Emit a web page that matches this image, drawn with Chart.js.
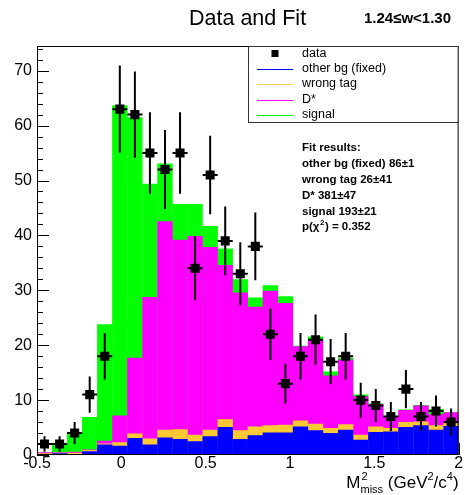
<!DOCTYPE html>
<html><head><meta charset="utf-8">
<script src="https://cdn.jsdelivr.net/npm/chart.js@4/dist/chart.umd.min.js"></script>
<style>html,body{margin:0;padding:0;background:#fff;}canvas{display:block;}</style>
</head><body>
<canvas id="c" width="465" height="495" style="width:465px;height:495px"></canvas>
<script>
// ---- data ----
const binCenters = [-0.4554,-0.3661,-0.2768,-0.1875,-0.0982,-0.0089,0.0804,0.1696,0.2589,0.3482,
  0.4375,0.5268,0.6161,0.7054,0.7946,0.8839,0.9732,1.0625,1.1518,1.2411,
  1.3304,1.4196,1.5089,1.5982,1.6875,1.7768,1.8661,1.9554];
const otherBg  = [0.2,0.3,0.2,0.7,1.9,1.7,3.1,1.9,3.2,2.9,2.5,3.4,5.1,2.9,3.6,4.1,4.1,5.2,4.5,4.0,4.6,2.8,4.2,4.3,5.1,5.4,4.6,5.3];
const wrongTag = [0.1,0.1,0.2,0.2,0.2,0.6,0.8,1.1,1.4,1.8,1.2,1.2,1.4,1.6,1.6,1.3,1.4,1.1,1.2,0.9,1.0,0.9,1.0,0.6,0.9,0.7,0.8,0.5];
const dStar    = [0.2,0.1,0.2,0.1,0.5,4.9,13.8,25.8,38.0,34.5,36.2,33.3,28.1,25.1,21.8,24.5,22.2,13.5,15.2,9.6,11.8,7.0,4.1,2.0,2.2,2.9,2.0,2.0];
const signal   = [0.0,1.5,3.4,5.9,21.2,56.5,43.8,20.6,10.5,6.5,5.8,3.8,3.0,2.4,1.7,1.0,1.2,0.1,0.7,0.7,0.3,0.3,0.1,0.2,0.1,0.1,1.0,0.0];
const dataCounts = [2,2,4,11,18,63,62,55,52,55,34,51,39,33,38,22,13,18,21,17,18,10,9,7,12,7,8,6];
const xTickValues = [-0.5,0,0.5,1,1.5,2];
const xTickLabels = ['-0.5','0','0.5','1','1.5','2'];
const yTickValues = [0,10,20,30,40,50,60,70];
const legendLabels = ['data','other bg (fixed)','wrong tag','D*','signal'];
const fitLines = ['Fit results:','other bg (fixed) 86\u00b11','wrong tag 26\u00b141','D* 381\u00b147','signal 193\u00b121'];
const pChi2 = '0.352';
const titleMain = 'Data and Fit';
const titleSub = '1.24\u2264w<1.30';

const FONT = '"Liberation Sans", Arial, Helvetica, sans-serif';
const C_BLUE = '#0000ff', C_ORANGE = '#ffc933', C_MAG = '#ff00ff', C_GREEN = '#00ff00';

function cumul(arrs){ return binCenters.map((x,i)=>({x:x, y:arrs.reduce((s,a)=>s+a[i],0)})); }

const barCommon = {type:'bar', grouped:false, barPercentage:1.02, categoryPercentage:1, borderWidth:0};

const rootPlugin = {
  id:'rootStyle',
  beforeDatasetsDraw(chart){
    const ctx = chart.ctx, a = chart.chartArea, xs = chart.scales.x, ys = chart.scales.y;
    ctx.save(); ctx.strokeStyle='#000'; ctx.lineWidth=1;
    ctx.beginPath();
    for(let v=0; v<=74; v+=2){
      const y = Math.round(ys.getPixelForValue(v))+0.5;
      const len = (v%10===0)?12:6;
      ctx.moveTo(a.left, y); ctx.lineTo(a.left+len, y);
    }
    for(let k=-5; k<=20; k++){
      const v = k/10;
      const x = Math.round(xs.getPixelForValue(v))+0.5;
      const len = (k%5===0)?12:6;
      ctx.moveTo(x, a.bottom); ctx.lineTo(x, a.bottom-len);
    }
    ctx.stroke(); ctx.restore();
  },
  afterDatasetsDraw(chart){
    const ctx = chart.ctx, a = chart.chartArea, xs = chart.scales.x, ys = chart.scales.y;
    ctx.save();
    ctx.strokeStyle='#000'; ctx.lineWidth=2;
    const half = (xs.getPixelForValue(binCenters[1])-xs.getPixelForValue(binCenters[0]))/2;
    dataCounts.forEach((n,i)=>{
      const x = xs.getPixelForValue(binCenters[i]);
      const e = Math.sqrt(n);
      const y = ys.getPixelForValue(n);
      ctx.beginPath();
      ctx.moveTo(x, ys.getPixelForValue(n+e)); ctx.lineTo(x, ys.getPixelForValue(Math.max(0,n-e)));
      ctx.moveTo(x-half, y); ctx.lineTo(x+half, y);
      ctx.stroke();
    });
    ctx.lineWidth=1; ctx.strokeStyle='#000';
    ctx.strokeRect(a.left+0.5, a.top+0.5, a.right-a.left-1, a.bottom-a.top-1);
    ctx.restore();
  },
  afterDraw(chart){
    const ctx = chart.ctx, a = chart.chartArea;
    ctx.save();
    const lx0 = 248.5, ly0 = a.top+0.5, lx1 = a.right-0.5, ly1 = 122.5;
    ctx.fillStyle='#fff'; ctx.fillRect(lx0, ly0, lx1-lx0, ly1-ly0);
    ctx.strokeStyle='#333'; ctx.lineWidth=1; ctx.strokeRect(lx0, ly0, lx1-lx0, ly1-ly0);
    const rowsY = [53.5, 68.5, 84, 99.5, 114.5];
    const lineColors = [null, C_BLUE, '#ffcc66', C_MAG, C_GREEN];
    ctx.font = '12.5px '+FONT; ctx.textBaseline='middle'; ctx.textAlign='left';
    legendLabels.forEach((lab,i)=>{
      const y = rowsY[i];
      if(i===0){ ctx.fillStyle='#000'; ctx.fillRect(271.5, y-3.5, 7, 7); }
      else { ctx.strokeStyle=lineColors[i]; ctx.lineWidth=1; ctx.beginPath(); ctx.moveTo(257, Math.round(y)+0.5); ctx.lineTo(293, Math.round(y)+0.5); ctx.stroke(); }
      ctx.fillStyle='#000'; ctx.fillText(lab, 302, y);
    });
    ctx.font = 'bold 11.5px '+FONT;
    const fy = [148, 164, 179.5, 195.5, 211.5, 227];
    fitLines.forEach((t,i)=>ctx.fillText(t, 302, fy[i]));
    let px = 302; const py = fy[5];
    ctx.fillText('p(\u03c7', px, py); px += ctx.measureText('p(\u03c7').width;
    ctx.font = 'bold 8px '+FONT; ctx.fillText('2', px+0.5, py-4); px += ctx.measureText('2').width+1;
    ctx.font = 'bold 11.5px '+FONT; ctx.fillText(') = '+pChi2, px, py);
    ctx.textBaseline='alphabetic';
    ctx.font = '21.5px '+FONT; ctx.textAlign='left'; ctx.fillText(titleMain, 189, 25);
    ctx.font = 'bold 15px '+FONT; ctx.textAlign='right'; ctx.fillText(titleSub, 451, 22.5);
    const big = '17px '+FONT, small = '11px '+FONT;
    ctx.font = big; const wM = ctx.measureText('M').width;
    ctx.font = small; const wMiss = ctx.measureText('miss').width, w2 = ctx.measureText('2').width, w4 = ctx.measureText('4').width;
    ctx.font = big; const wA = ctx.measureText(' (GeV').width, wB = ctx.measureText('/c').width, wC = ctx.measureText(')').width;
    const total = wM + wMiss + wA + w2 + wB + w4 + wC;
    let x = a.right - total; const by = 488;
    ctx.textAlign='left'; ctx.fillStyle='#000';
    ctx.font = big; ctx.fillText('M', x, by); x += wM;
    ctx.font = small; ctx.fillText('2', x+1, by-8); ctx.fillText('miss', x, by+5); x += wMiss;
    ctx.font = big; ctx.fillText(' (GeV', x, by); x += wA;
    ctx.font = small; ctx.fillText('2', x, by-8); x += w2;
    ctx.font = big; ctx.fillText('/c', x, by); x += wB;
    ctx.font = small; ctx.fillText('4', x, by-8); x += w4;
    ctx.font = big; ctx.fillText(')', x, by);
    ctx.restore();
  }
};

new Chart(document.getElementById('c'), {
  data: {
    datasets: [
      Object.assign({label:'signal', data:cumul([otherBg,wrongTag,dStar,signal]), backgroundColor:C_GREEN, order:4}, barCommon),
      Object.assign({label:'D*', data:cumul([otherBg,wrongTag,dStar]), backgroundColor:C_MAG, order:3}, barCommon),
      Object.assign({label:'wrong tag', data:cumul([otherBg,wrongTag]), backgroundColor:C_ORANGE, order:2}, barCommon),
      Object.assign({label:'other bg (fixed)', data:cumul([otherBg]), backgroundColor:C_BLUE, order:1}, barCommon),
      {type:'scatter', label:'data', data:binCenters.map((x,i)=>({x:x, y:dataCounts[i]})), order:0,
       pointStyle:'rect', pointRadius:6.4, pointHoverRadius:6.4, backgroundColor:'#000', borderColor:'#000', borderWidth:0, showLine:false}
    ]
  },
  options: {
    responsive:false, animation:false, devicePixelRatio:1,
    layout:{padding:{top:46, right:4, left:0, bottom:0}},
    plugins:{legend:{display:false}, tooltip:{enabled:false}, title:{display:false}},
    scales:{
      x:{type:'linear', min:-0.5, max:2, offset:false,
         grid:{display:false, drawTicks:false, offset:false}, border:{display:false},
         ticks:{color:'#000', font:{family:FONT, size:16, lineHeight:1}, padding:1, maxRotation:0, autoSkip:false,
                callback(v){ const k = xTickValues.indexOf(v); return k>=0 ? xTickLabels[k] : ''; }},
         afterBuildTicks(s){ s.ticks = xTickValues.map(v=>({value:v})); },
         afterFit(s){ s.height = 40; }},
      y:{type:'linear', min:0, max:74.5,
         grid:{display:false, drawTicks:false}, border:{display:false},
         ticks:{color:'#000', font:{family:FONT, size:16, lineHeight:1}, padding:5, autoSkip:false},
         afterBuildTicks(s){ s.ticks = yTickValues.map(v=>({value:v})); },
         afterFit(s){ s.width = 37; }}
    }
  },
  plugins:[rootPlugin]
});
</script>
</body></html>
